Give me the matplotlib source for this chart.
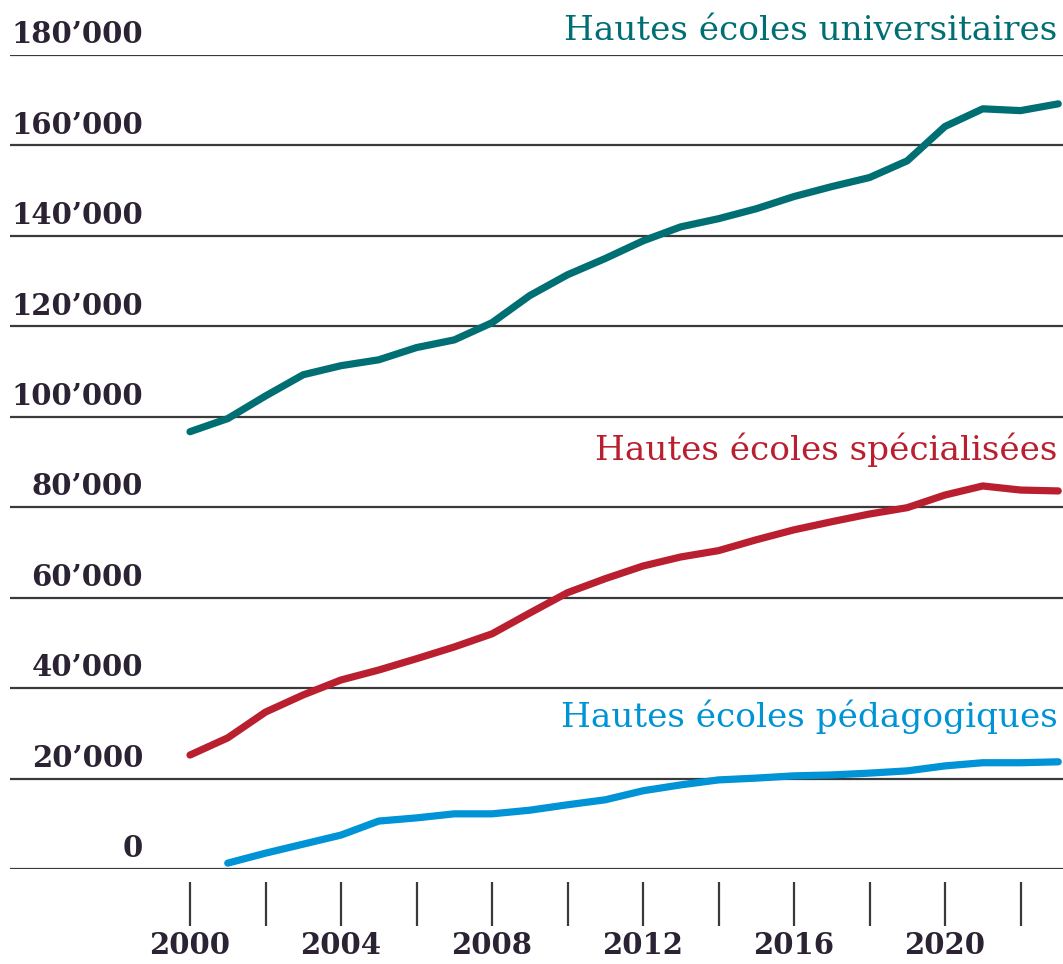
import matplotlib
matplotlib.use("Agg")
import matplotlib.pyplot as plt
import numpy as np

years_uni = list(range(2000, 2024))
uni = [96700, 99600, 104600, 109300, 111300, 112600, 115300, 117000, 120800, 126800,
       131400, 135000, 138900, 142000, 143800, 146000, 148700, 150900, 152900, 156600,
       164200, 168100, 167700, 169200]
years_fh = list(range(2000, 2024))
fh = [25200, 29000, 34700, 38500, 41800, 44000, 46500, 49100, 52000, 56600,
      61100, 64200, 67000, 69000, 70400, 72800, 75000, 76800, 78500, 79900,
      82700, 84700, 83800, 83600]
years_ph = list(range(2001, 2024))
ph = [1300, 3500, 5500, 7500, 10600, 11300, 12200, 12200, 13000, 14200,
      15300, 17300, 18600, 19700, 20100, 20600, 20800, 21200, 21700, 22800,
      23500, 23500, 23700]

y_ticks = [0, 20000, 40000, 60000, 80000, 100000, 120000, 140000, 160000, 180000]
y_labels = ["0", "20’000", "40’000", "60’000", "80’000", "100’000", "120’000",
            "140’000", "160’000", "180’000"]
x_ticks = list(range(2000, 2023, 2))
x_labels = [str(y) if y % 4 == 0 else "" for y in x_ticks]

series_names = ["Hautes écoles universitaires", "Hautes écoles spécialisées",
                "Hautes écoles pédagogiques"]
series_label_y = [183300, 90450, 31400]

c_uni = "#006F73"
c_fh = "#B91F2E"
c_ph = "#0093D6"
grid_c = "#3a3a3a"
text_c = "#2b2233"
FONT = "DejaVu Serif"

W, H = 1063, 964
fig = plt.figure(figsize=(W / 100, H / 100), dpi=100)
ax = fig.add_axes([10 / W, (H - 869) / H, 1053 / W, 814 / H])
ax.set_xlim(2000 - 180 / 37.75, 2000 + 873 / 37.75)
ax.set_ylim(0, 180000)

for v in y_ticks:
    ax.axhline(v, color=grid_c, lw=1.6, zorder=1)

ax.plot(years_uni, uni, color=c_uni, lw=5.2, solid_capstyle="round", solid_joinstyle="round", zorder=3)
ax.plot(years_fh, fh, color=c_fh, lw=5.2, solid_capstyle="round", solid_joinstyle="round", zorder=3)
ax.plot(years_ph, ph, color=c_ph, lw=5.2, solid_capstyle="round", solid_joinstyle="round", zorder=3)

for s in ax.spines.values():
    s.set_visible(False)
ax.spines["bottom"].set_position(("outward", 9))
ax.set_yticks([])
ax.set_xticks(x_ticks)
ax.set_xticklabels(x_labels, fontsize=21, fontweight="bold", family=FONT, color=text_c)
ax.tick_params(axis="x", direction="out", length=32, width=1.6, color=grid_c, pad=4)

label_right = (143 - 10) / 1053
for v, lab in zip(y_ticks, y_labels):
    ax.annotate(lab, xy=(label_right, v), xycoords=("axes fraction", "data"), xytext=(0, 8.5),
                textcoords="offset points", ha="right", va="baseline", fontsize=21,
                fontweight="bold", family=FONT, color=text_c)

for name, yv, c in zip(series_names, series_label_y, [c_uni, c_fh, c_ph]):
    ax.annotate(name, xy=(0.995, yv), xycoords=("axes fraction", "data"), ha="right", va="baseline",
                fontsize=24.7, family=FONT, color=c)

fig.savefig("out.png", dpi=100)
